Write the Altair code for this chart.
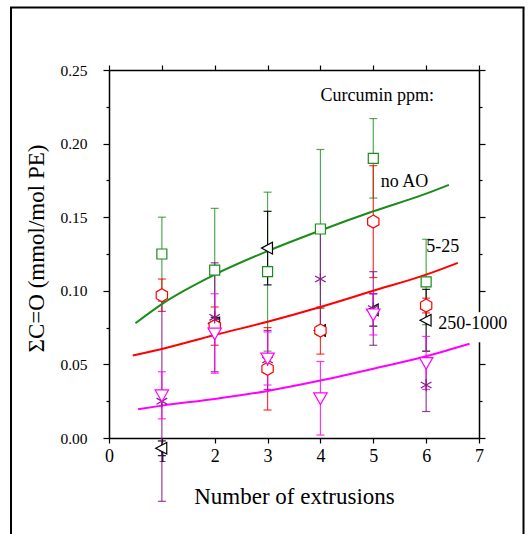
import altair as alt
import pandas as pd

# ---------------- data ----------------
x_pts = [1, 2, 3, 4, 5, 6]

noao_y = [0.125, 0.114, 0.113, 0.142, 0.190, 0.106]
noao_err = [0.025, 0.042, 0.054, 0.054, 0.027, 0.029]

c5_y = [-0.007, 0.078, 0.129, 0.073, 0.087, 0.080]
c5_err = [0.005, 0.004, 0.025, 0.003, 0.011, 0.021]

c25_y = [0.097, 0.076, 0.047, 0.073, 0.147, 0.090]
c25_err = [0.011, 0.013, 0.028, 0.016, 0.038, 0.005]

c250_y = [0.025, 0.082, 0.053, 0.108, 0.088, 0.036]
c250_err = [0.068, 0.037, 0.020, 0.037, 0.025, 0.018]

c1000_y = [0.029, 0.071, 0.054, 0.027, 0.084, 0.051]
c1000_err = [0.016, 0.027, 0.018, 0.025, 0.014, 0.018]

fit_noao_x = [0.5, 1, 2, 3, 4, 5, 6, 6.43]
fit_noao_y = [0.078, 0.091, 0.111, 0.127, 0.141, 0.154, 0.166, 0.172]

fit_525_x = [0.45, 1, 2, 3, 4, 5, 6, 6.6]
fit_525_y = [0.056, 0.0605, 0.070, 0.079, 0.089, 0.100, 0.111, 0.119]

fit_hi_x = [0.55, 1, 2, 3, 4, 5, 6, 6.82]
fit_hi_y = [0.0195, 0.022, 0.0265, 0.032, 0.039, 0.047, 0.0555, 0.064]

x_ticks = [0, 1, 2, 3, 4, 5, 6, 7]
y_ticks = [0, 0.025, 0.05, 0.075, 0.10, 0.125, 0.15, 0.175, 0.20, 0.225, 0.25]

ann_text = ["Curcumin ppm:", "no AO", "5-25", "250-1000"]
ann_x = [4.0, 5.14, 6.0, 6.23]
ann_y = [0.232, 0.174, 0.130, 0.0775]

# ---------------- style ----------------
FONT = "'Liberation Serif', 'Times New Roman', 'DejaVu Serif', serif"
W, H = 370, 368
GREEN = "#1a8c1a"
RED = "#ff0000"
MAGENTA = "#ff00ff"
PURPLE = "#8b1a8b"
BLACK = "#000000"

HEX = "M0,-1L0.866,-0.5L0.866,0.5L0,1L-0.866,0.5L-0.866,-0.5Z"
LTRI = "M-1,0L0.8,-0.95L0.8,0.95Z"
DTRI = "M-1,-0.8L1,-0.8L0,0.95Z"
AST = "M0,-1L0,1M-0.87,-0.5L0.87,0.5M-0.87,0.5L0.87,-0.5"

xscale = alt.Scale(domain=[0, 7], nice=False, zero=False)
yscale = alt.Scale(domain=[0, 0.25], nice=False, zero=False)

major_test = "abs(datum.value*20 - round(datum.value*20)) < 0.01"
tick_size_cond = {"condition": {"test": major_test, "value": 6}, "value": 3}

axis_common = dict(domainColor="black", domainWidth=1.5, tickColor="black",
                   tickWidth=1.2, grid=False, labelFont=FONT, labelColor="black",
                   titleFont=FONT, titleColor="black", titleFontWeight="normal",
                   labelFlush=False, labelOverlap=False)

x_bottom = alt.Axis(orient="bottom", values=x_ticks, format="d", tickSize=5,
                    labelFontSize=18, labelPadding=4, title="Number of extrusions",
                    titleFontSize=23, titleY=65, titleBaseline="alphabetic",
                    **axis_common)
y_left = alt.Axis(orient="left", values=y_ticks, tickSize=tick_size_cond,
                  labelExpr=major_test + " ? format(datum.value, '.2f') : ''",
                  labelFontSize=15.5, labelPadding=16,
                  title="ΣC=O (mmol/mol PE)", titleFontSize=23, titleAngle=-90,
                  titleX=-66, titleY=178, titleAlign="center",
                  titleBaseline="alphabetic", **axis_common)
x_top = alt.Axis(orient="top", values=x_ticks, tickSize=5, labels=False,
                 title=None, **axis_common)
y_right = alt.Axis(orient="right", values=y_ticks, tickSize=tick_size_cond,
                   labels=False, title=None, **axis_common)

series = [
    ("noao", noao_y, noao_err, GREEN, 0.75, "square", 100, True),
    ("c5", c5_y, c5_err, BLACK, 0.9, LTRI, 150, True),
    ("c25", c25_y, c25_err, RED, 0.8, HEX, 170, True),
    ("c250", c250_y, c250_err, PURPLE, 0.85, AST, 150, False),
    ("c1000", c1000_y, c1000_err, MAGENTA, 0.8, DTRI, 180, True),
]

frames = {}
for name, ys, es, *_ in series:
    frames[name] = pd.DataFrame({
        "x": x_pts, "y": ys,
        "lo": [a - b for a, b in zip(ys, es)],
        "hi": [a + b for a, b in zip(ys, es)],
    })

layers = []

# axis carrier layers (invisible)
axis_df = frames["noao"]
layers.append(alt.Chart(axis_df).mark_point(opacity=0).encode(
    x=alt.X("x:Q", scale=xscale, axis=x_bottom),
    y=alt.Y("y:Q", scale=yscale, axis=y_left)))
layers.append(alt.Chart(axis_df).mark_point(opacity=0).encode(
    x=alt.X("x:Q", scale=xscale, axis=x_top),
    y=alt.Y("y:Q", scale=yscale, axis=y_right)))

def X(f="x"):
    return alt.X(f"{f}:Q", scale=xscale, axis=None)

def Y(f):
    return alt.Y(f"{f}:Q", scale=yscale, axis=None)

# error bars
for name, ys, es, col, op, shp, sz, fil in series:
    df = frames[name]
    layers.append(alt.Chart(df).mark_rule(color=col, strokeWidth=1.2, opacity=op).encode(
        x=X(), y=Y("lo"), y2="hi"))
    for f in ("lo", "hi"):
        layers.append(alt.Chart(df).mark_tick(color=col, orient="horizontal", size=8,
                                              thickness=1.2, opacity=op).encode(
            x=X(), y=Y(f)))

# white box behind right label
box = pd.DataFrame({"x": [6.96], "x2": [7.15], "y": [0.065], "y2": [0.0855]})
layers.append(alt.Chart(box).mark_rect(color="white").encode(
    x=X(), x2="x2", y=Y("y"), y2="y2"))

# fitted curves
for fx, fy, col in [(fit_noao_x, fit_noao_y, GREEN), (fit_525_x, fit_525_y, RED),
                    (fit_hi_x, fit_hi_y, MAGENTA)]:
    df = pd.DataFrame({"x": fx, "y": fy})
    layers.append(alt.Chart(df).mark_line(color=col, strokeWidth=2,
                                          interpolate="monotone").encode(
        x=X(), y=Y("y")))

# markers
for name, ys, es, col, op, shp, sz, fil in series:
    df = frames[name]
    if fil:
        m = alt.Chart(df).mark_point(shape=shp, size=sz, filled=True, fill="white",
                                     stroke=col, strokeWidth=1.2, opacity=1)
    else:
        m = alt.Chart(df).mark_point(shape=shp, size=sz, filled=False,
                                     stroke=col, strokeWidth=1.2, opacity=1)
    layers.append(m.encode(x=X(), y=Y("y")))

# annotations
ann = pd.DataFrame({"t": ann_text, "x": ann_x, "y": ann_y})
layers.append(alt.Chart(ann).mark_text(font=FONT, fontSize=18, align="left",
                                       baseline="middle", color="black").encode(
    x=X(), y=Y("y"), text="t:N"))

# outer page frame
one = pd.DataFrame({"a": [0]})
layers.append(alt.Chart(one).mark_rule(color="black", strokeWidth=2).encode(
    x=alt.value(-98), y=alt.value(-62.5), y2=alt.value(480)))
layers.append(alt.Chart(one).mark_rule(color="black", strokeWidth=2).encode(
    x=alt.value(-99), x2=alt.value(415.5), y=alt.value(-62.5)))
layers.append(alt.Chart(one).mark_rule(color="black", strokeWidth=2).encode(
    x=alt.value(414.5), y=alt.value(-62.5), y2=alt.value(480)))

chart = alt.layer(*layers).resolve_axis(x="independent", y="independent").properties(
    width=W, height=H,
    autosize=alt.AutoSizeParams(type="none"),
    padding={"left": 109, "top": 70, "right": 52, "bottom": 96},
    background="white",
).configure_view(stroke=None)

chart.save("out.html", embed_options={"renderer": "svg", "actions": False})
